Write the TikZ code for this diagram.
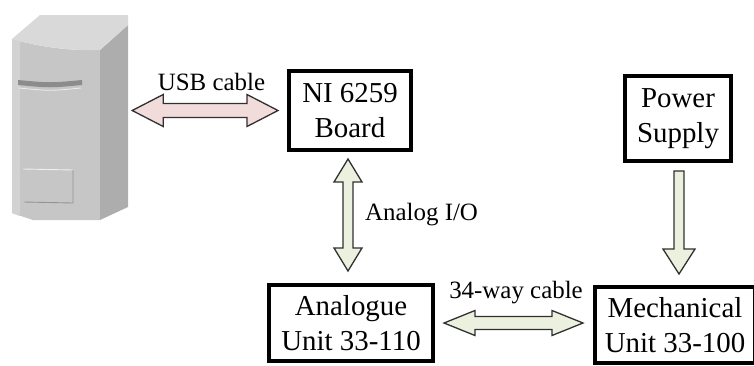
\documentclass[tikz,border=0pt]{standalone}
\usepackage{fontspec}
\setmainfont{Liberation Serif}
\newfontfamily\diagramfont{Liberation Serif}
\usetikzlibrary{calc}

\definecolor{usbpink}{HTML}{F2DCDB}
\definecolor{sigreen}{HTML}{EBF1DE}
\definecolor{arrowline}{HTML}{303030}
\definecolor{towerfront}{HTML}{C6C6C6}
\definecolor{towerleft}{HTML}{D2D2D2}
\definecolor{towerside}{HTML}{ADADAD}
\definecolor{towertop}{HTML}{D9D9D9}
\definecolor{towerslot}{HTML}{8C8C8C}

% double-headed horizontal block arrow: style, left tip, right tip,
% head half-height, shaft half-height, head length (all in bp)
\newcommand{\hdblarrow}[6]{%
  \draw[#1] let \p1=(#2), \p2=(#3) in
    (\x1,\y1) -- (\x1+#6bp,\y1+#4bp) -- (\x1+#6bp,\y1+#5bp)
    -- (\x2-#6bp,\y1+#5bp) -- (\x2-#6bp,\y1+#4bp) -- (\x2,\y1)
    -- (\x2-#6bp,\y1-#4bp) -- (\x2-#6bp,\y1-#5bp)
    -- (\x1+#6bp,\y1-#5bp) -- (\x1+#6bp,\y1-#4bp) -- cycle;}
% double-headed vertical block arrow: style, top tip, bottom tip, ...
\newcommand{\vdblarrow}[6]{%
  \draw[#1] let \p1=(#2), \p2=(#3) in
    (\x1,\y1) -- (\x1+#4bp,\y1-#6bp) -- (\x1+#5bp,\y1-#6bp)
    -- (\x1+#5bp,\y2+#6bp) -- (\x1+#4bp,\y2+#6bp) -- (\x1,\y2)
    -- (\x1-#4bp,\y2+#6bp) -- (\x1-#5bp,\y2+#6bp)
    -- (\x1-#5bp,\y1-#6bp) -- (\x1-#4bp,\y1-#6bp) -- cycle;}
% single downward block arrow: style, shaft top, tip, ...
\newcommand{\downblockarrow}[6]{%
  \draw[#1] let \p1=(#2), \p2=(#3) in
    (\x1-#5bp,\y1) -- (\x1+#5bp,\y1) -- (\x1+#5bp,\y2+#6bp)
    -- (\x1+#4bp,\y2+#6bp) -- (\x1,\y2) -- (\x1-#4bp,\y2+#6bp)
    -- (\x1-#5bp,\y2+#6bp) -- cycle;}

\begin{document}
\begin{tikzpicture}[x=1bp,y=-1bp,
  unitbox/.style={draw=black, line width=4bp, fill=white, inner sep=0pt,
    align=center, font=\diagramfont\fontsize{29}{35}\selectfont},
  cablelabel/.style={inner sep=0pt, font=\diagramfont\fontsize{25}{30}\selectfont},
  pinkarrow/.style={fill=usbpink, draw=arrowline, line width=1.3bp, line join=miter},
  greenarrow/.style={fill=sigreen, draw=arrowline, line width=1.3bp, line join=miter}]

\useasboundingbox (0,0) rectangle (754,365);

% --- PC tower ---
\fill[towerfront] (12,39) .. controls (40,47) and (70,51) .. (100,50)
  -- (100,220) -- (33,220) -- (12,213) -- cycle;
\fill[towerleft] (12,39) .. controls (16,40) .. (20,41) -- (20,216) -- (12,213) -- cycle;
\fill[towerside] (100,50) -- (128,25) -- (128,207) -- (100,220) -- cycle;
\fill[towertop] (12,39) -- (40,15) -- (128,15) -- (128,25) -- (100,50)
  .. controls (70,51) and (40,47) .. (12,39) -- cycle;
\fill[towerslot] (18,80) .. controls (50,83) .. (82,80) -- (82,85)
  .. controls (50,88) .. (18,85) -- cycle;
\draw[white!85!gray, line width=0.8bp] (19,88) .. controls (50,91) .. (81,88);
\draw[white!88!gray, line width=0.9bp] (23,169) -- (73,170);
\draw[gray!85, line width=0.9bp] (73,170) -- (73,203) -- (24,202);
\draw[gray!45, line width=0.6bp] (23,169) -- (24,202);
\node[inner sep=0pt, minimum width=116bp, minimum height=206bp] (pc) at (70,117) {};

% --- boxes ---
\node[unitbox, minimum width=122bp, minimum height=79bp] (ni) at (350,110.5)
  {NI 6259\\Board};
\node[unitbox, minimum width=106bp, minimum height=85bp] (ps) at (678,118.5)
  {Power\\Supply};
\node[unitbox, minimum width=164bp, minimum height=76bp] (an) at (351,323)
  {Analogue\\Unit 33-110};
\node[unitbox, minimum width=160bp, minimum height=76bp] (me) at (675,325)
  {Mechanical\\Unit 33-100};

% --- block arrows ---
\hdblarrow{pinkarrow}{$(pc.east |- ni.west)+(4,0)$}{$(ni.west)+(-9,0)$}{16}{7}{31}
\vdblarrow{greenarrow}{$(ni.south)+(-2,7)$}{$(ni.south |- an.north)+(-2,-12)$}{14}{5}{23}
\hdblarrow{greenarrow}{$(an.east)+(9,0)$}{$(an.east -| me.west)+(-10,0)$}{12.5}{6.5}{31}
\downblockarrow{greenarrow}{$(ps.south)+(1,8)$}{$(ps.south |- me.north)+(1,-11)$}{16}{5}{25}

% --- labels ---
\node[cablelabel] (usb) at (211.5,82) {USB cable};
\node[cablelabel, anchor=west] (aio) at (365,215) {Analog I/O};
\node[cablelabel] (way) at (516,293) {34-way cable};
\end{tikzpicture}
\end{document}
